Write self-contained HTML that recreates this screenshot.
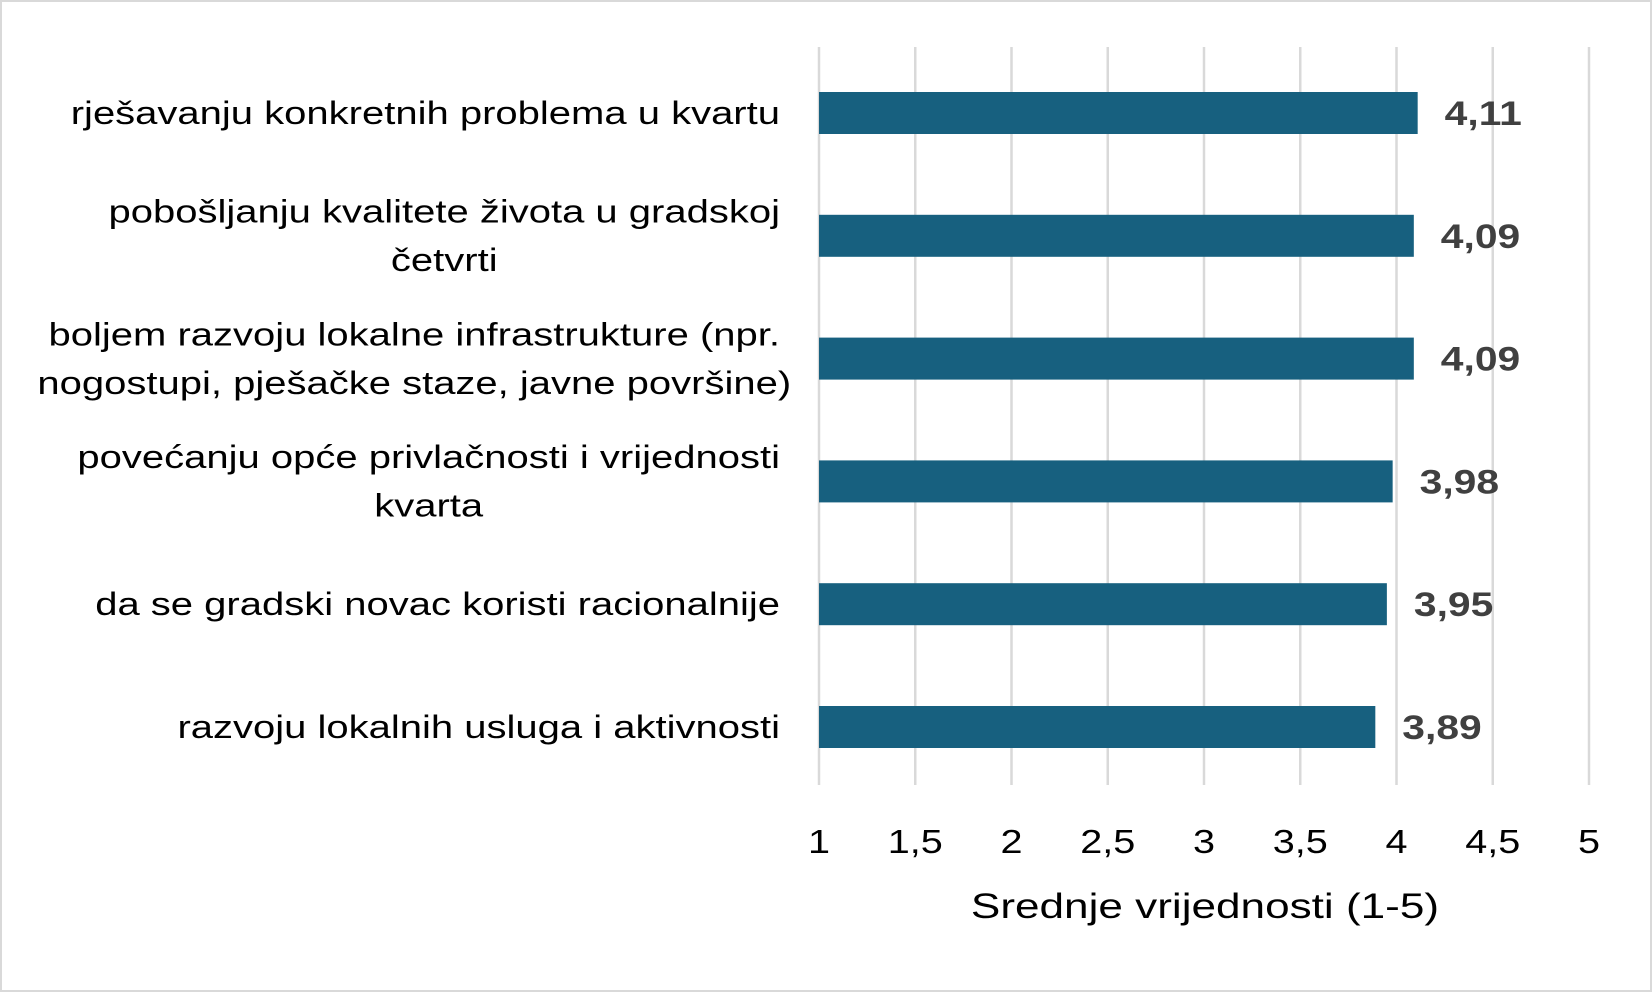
<!DOCTYPE html>
<html><head><meta charset="utf-8"><style>
html,body{margin:0;padding:0;background:#fff}
svg{display:block}
text{font-family:"Liberation Sans",sans-serif}
</style></head><body>
<svg id="chart" width="1652" height="992">
<rect x="1" y="1" width="1650" height="990" fill="#fff" stroke="#d9d9d9" stroke-width="2"/>
<g id="grid"></g><g id="bars"></g><g id="labels"></g>
<text id="xtitle" x="1205" y="918" font-size="35" text-anchor="middle" fill="#000">Srednje vrijednosti (1-5)</text>
</svg>
<script>
const categories=[["rješavanju konkretnih problema u kvartu"],["pobošljanju kvalitete života u gradskoj","četvrti"],["boljem razvoju lokalne infrastrukture (npr.","nogostupi, pješačke staze, javne površine)"],["povećanju opće privlačnosti i vrijednosti","kvarta"],["da se gradski novac koristi racionalnije"],["razvoju lokalnih usluga i aktivnosti"]];
const values=[4.11,4.09,4.09,3.98,3.95,3.89];
const valueLabels=["4,11","4,09","4,09","3,98","3,95","3,89"];
const ticks=[1,1.5,2,2.5,3,3.5,4,4.5,5];
const tickLabels=["1","1,5","2","2,5","3","3,5","4","4,5","5"];
const NS="http://www.w3.org/2000/svg";
const x0=819,x1=1589,yTop=47,yBottom=785,step=122.8,bh=42;
const xs=v=>x0+(v-1)/(5-1)*(x1-x0);
const yc=i=>113+i*step;
function mk(tag,attrs,parent,txt){const e=document.createElementNS(NS,tag);for(const k in attrs)e.setAttribute(k,attrs[k]);if(txt!==undefined)e.textContent=txt;parent.appendChild(e);return e;}
function stretch(el,f){let w=0;try{w=el.getComputedTextLength();}catch(e){}if(w>0){el.setAttribute('textLength',w*f);el.setAttribute('lengthAdjust','spacingAndGlyphs');}return w*f;}
const grid=document.getElementById('grid'),bars=document.getElementById('bars'),labels=document.getElementById('labels');
stretch(document.getElementById('xtitle'),1.26);
ticks.forEach((t,i)=>{
  const l=mk('line',{x1:xs(t),x2:xs(t),y1:yTop,y2:yBottom,stroke:'#d9d9d9','stroke-width':2.5},grid);
  
  
  const tx=mk('text',{x:xs(t),y:853,'font-size':33,'text-anchor':'middle',fill:'#000'},grid,tickLabels[i]);
  
  
  stretch(tx,1.2);
});
values.forEach((v,i)=>{
  const r=mk('rect',{x:x0,y:yc(i)-bh/2,width:xs(v)-x0,height:bh,fill:'#17607f'},bars);
  
  
  const vt=mk('text',{x:xs(v)+27,y:yc(i)+12,'font-size':34,'font-weight':'bold',fill:'#404040'},labels,valueLabels[i]);
  
  
  stretch(vt,1.2);
  const lines=categories[i];
  let firstW=0;
  lines.forEach((s,j)=>{
    const yy=yc(i)+11+(j-(lines.length-1)/2)*48.5;
    const ct=mk('text',{x:780,y:yy,'font-size':32,'text-anchor':'end',fill:'#000'},labels,s);
    
    
    const w=stretch(ct,1.25);
    if(j===0){firstW=w;}
    else{
      ct.setAttribute('text-anchor','middle');
      ct.setAttribute('x',780-firstW/2);
    }
  });
});
</script>
</body></html>
